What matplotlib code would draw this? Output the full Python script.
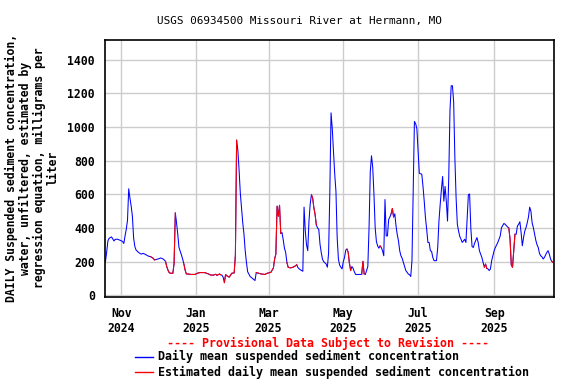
import matplotlib
matplotlib.use("Agg")
import matplotlib.pyplot as plt
import matplotlib.dates as mdates
from matplotlib.lines import Line2D
import pandas as pd
import numpy as np

# daily mean suspended sediment concentration (mg/L)
dates = [
    "2024-10-19", "2024-10-20", "2024-10-21", "2024-10-22", "2024-10-24", "2024-10-25",
    "2024-10-26", "2024-10-27", "2024-10-29", "2024-10-31",
    "2024-11-02", "2024-11-03", "2024-11-04", "2024-11-05", "2024-11-06", "2024-11-07",
    "2024-11-08", "2024-11-09", "2024-11-10", "2024-11-11", "2024-11-12", "2024-11-13",
    "2024-11-15", "2024-11-17", "2024-11-19", "2024-11-21", "2024-11-23", "2024-11-25",
    "2024-11-27", "2024-11-28", "2024-11-30",
    "2024-12-01", "2024-12-03", "2024-12-05", "2024-12-06", "2024-12-07", "2024-12-08",
    "2024-12-09", "2024-12-10", "2024-12-11", "2024-12-13", "2024-12-14", "2024-12-15",
    "2024-12-16", "2024-12-17", "2024-12-18", "2024-12-19", "2024-12-20", "2024-12-21",
    "2024-12-22", "2024-12-23", "2024-12-24", "2024-12-25", "2024-12-28", "2024-12-31",
    "2025-01-02", "2025-01-04", "2025-01-08", "2025-01-11", "2025-01-13", "2025-01-15",
    "2025-01-17", "2025-01-18", "2025-01-20", "2025-01-21", "2025-01-22", "2025-01-23",
    "2025-01-24", "2025-01-25", "2025-01-26", "2025-01-28", "2025-01-30",
    "2025-02-01", "2025-02-02", "2025-02-03", "2025-02-04", "2025-02-05", "2025-02-06",
    "2025-02-07", "2025-02-08", "2025-02-09", "2025-02-10", "2025-02-11", "2025-02-12",
    "2025-02-14", "2025-02-16", "2025-02-18", "2025-02-19", "2025-02-21", "2025-02-23",
    "2025-02-26", "2025-02-28",
    "2025-03-03", "2025-03-04", "2025-03-05", "2025-03-06", "2025-03-07", "2025-03-08",
    "2025-03-09", "2025-03-10", "2025-03-11", "2025-03-12", "2025-03-13", "2025-03-14",
    "2025-03-15", "2025-03-16", "2025-03-17", "2025-03-19", "2025-03-21", "2025-03-23",
    "2025-03-24", "2025-03-25", "2025-03-26", "2025-03-28", "2025-03-29", "2025-03-30",
    "2025-03-31",
    "2025-04-01", "2025-04-02", "2025-04-03", "2025-04-04", "2025-04-05", "2025-04-06",
    "2025-04-07", "2025-04-08", "2025-04-09", "2025-04-10", "2025-04-11", "2025-04-12",
    "2025-04-13", "2025-04-14", "2025-04-15", "2025-04-17", "2025-04-18", "2025-04-19",
    "2025-04-20", "2025-04-21", "2025-04-22", "2025-04-23", "2025-04-24", "2025-04-25",
    "2025-04-26", "2025-04-27", "2025-04-28", "2025-04-29", "2025-04-30",
    "2025-05-01", "2025-05-02", "2025-05-03", "2025-05-04", "2025-05-05", "2025-05-06",
    "2025-05-07", "2025-05-08", "2025-05-09", "2025-05-10", "2025-05-11", "2025-05-16",
    "2025-05-17", "2025-05-18", "2025-05-19", "2025-05-20", "2025-05-21", "2025-05-22",
    "2025-05-23", "2025-05-24", "2025-05-25", "2025-05-26", "2025-05-27", "2025-05-28",
    "2025-05-29", "2025-05-30", "2025-05-31",
    "2025-06-01", "2025-06-02", "2025-06-03", "2025-06-04", "2025-06-05", "2025-06-06",
    "2025-06-07", "2025-06-08", "2025-06-09", "2025-06-10", "2025-06-11", "2025-06-12",
    "2025-06-13", "2025-06-14", "2025-06-15", "2025-06-16", "2025-06-17", "2025-06-18",
    "2025-06-19", "2025-06-21", "2025-06-23", "2025-06-24", "2025-06-25", "2025-06-26",
    "2025-06-27", "2025-06-28", "2025-06-29", "2025-06-30",
    "2025-07-01", "2025-07-02", "2025-07-03", "2025-07-04", "2025-07-05", "2025-07-06",
    "2025-07-07", "2025-07-08", "2025-07-09", "2025-07-10", "2025-07-11", "2025-07-12",
    "2025-07-13", "2025-07-14", "2025-07-16", "2025-07-17", "2025-07-18", "2025-07-19",
    "2025-07-20", "2025-07-21", "2025-07-22", "2025-07-23", "2025-07-24", "2025-07-25",
    "2025-07-26", "2025-07-27", "2025-07-28", "2025-07-29", "2025-07-30", "2025-07-31",
    "2025-08-01", "2025-08-02", "2025-08-03", "2025-08-04", "2025-08-05", "2025-08-06",
    "2025-08-07", "2025-08-08", "2025-08-09", "2025-08-10", "2025-08-11", "2025-08-12",
    "2025-08-13", "2025-08-14", "2025-08-15", "2025-08-16", "2025-08-18", "2025-08-19",
    "2025-08-20", "2025-08-22", "2025-08-23", "2025-08-24", "2025-08-25", "2025-08-26",
    "2025-08-27", "2025-08-28", "2025-08-29", "2025-08-30",
    "2025-09-01", "2025-09-02", "2025-09-04", "2025-09-06", "2025-09-07", "2025-09-09",
    "2025-09-10", "2025-09-12", "2025-09-13", "2025-09-14", "2025-09-15", "2025-09-16",
    "2025-09-17", "2025-09-18", "2025-09-19", "2025-09-20", "2025-09-21", "2025-09-22",
    "2025-09-23", "2025-09-24", "2025-09-25", "2025-09-26", "2025-09-27", "2025-09-28",
    "2025-09-29", "2025-09-30",
    "2025-10-01", "2025-10-02", "2025-10-03", "2025-10-04", "2025-10-05", "2025-10-06",
    "2025-10-07", "2025-10-08", "2025-10-09", "2025-10-10", "2025-10-11", "2025-10-12",
    "2025-10-13", "2025-10-14", "2025-10-15", "2025-10-16", "2025-10-17", "2025-10-18",
    "2025-10-19",
]
ssc = [
    200, 255, 323, 339, 347, 335,
    323, 333, 333, 327,
    320, 308, 353, 392, 445, 633,
    578, 530, 470, 340, 290, 269,
    255, 245, 249, 241, 233, 229,
    220, 210, 214,
    216, 222, 216, 210, 202, 171,
    150, 135, 131, 131, 190, 490,
    431, 363, 284, 262, 240, 215,
    186, 150, 127, 127, 124, 124,
    131, 135, 135, 127, 120, 120,
    125, 118, 127, 122, 120, 108,
    75, 124, 116, 108, 131,
    133, 240, 922, 863, 745, 608,
    520, 431, 363, 265, 196, 140,
    112, 100, 88, 135, 131, 127,
    124, 131,
    137, 150, 163, 216, 245, 530,
    470, 535, 367, 373, 330, 280,
    255, 196, 167, 163, 167, 175,
    182, 165, 157, 147, 143, 524,
    382,
    300, 265, 441, 543, 598, 578,
    520, 480, 418, 400, 392, 304,
    255, 215, 200, 186, 167, 250,
    608, 1084, 990, 850, 720, 618,
    343, 216, 180, 167, 157,
    200, 225, 269, 275, 255, 190,
    147, 171, 160, 140, 124, 124,
    202, 127, 124, 147, 171, 402,
    735, 829, 760, 600, 400, 320,
    294, 280, 294,
    284, 265, 235, 569, 353, 353,
    451, 465, 484, 516, 465, 484,
    412, 360, 324, 265, 235, 220,
    196, 147, 127, 122, 112, 206,
    618, 1033, 1020, 990,
    853, 725, 722, 720, 647, 559,
    461, 392, 314, 314, 265, 261,
    225, 206, 206, 284, 441, 539,
    627, 706, 559, 647, 560, 441,
    700, 1098, 1245, 1245, 1150, 814,
    578, 422, 382, 350, 333, 314,
    324, 333, 314, 461, 598, 602,
    400, 290, 284, 308, 343, 314,
    265, 225, 196, 167, 186, 160,
    157, 147, 157, 206,
    265, 284, 314, 353, 402, 427,
    422, 406, 400, 333, 180, 167,
    265, 363, 363, 412, 422, 437,
    373, 294, 343, 382, 402, 431,
    465, 524,
    500, 431, 402, 363, 327, 300,
    284, 249, 235, 229, 216, 225,
    240, 255, 265, 245, 216, 202,
    196,
]

# periods where the daily value is estimated (drawn red)
est_start = ["2024-11-25", "2024-12-07", "2024-12-22", "2025-01-24", "2025-02-19",
             "2025-03-16", "2025-04-05", "2025-05-04", "2025-05-16", "2025-05-31",
             "2025-06-09", "2025-08-24", "2025-09-13", "2025-10-18"]
est_end = ["2024-11-28", "2024-12-15", "2025-01-21", "2025-02-03", "2025-03-11",
           "2025-03-24", "2025-04-09", "2025-05-07", "2025-05-18", "2025-06-01",
           "2025-06-11", "2025-08-26", "2025-09-18", "2025-10-19"]

yticks = [0, 200, 400, 600, 800, 1000, 1200, 1400]
xticks = ["2024-11-01", "2025-01-01", "2025-03-01", "2025-05-01", "2025-07-01", "2025-09-01"]

t = pd.to_datetime(dates)
v = np.array(ssc, dtype=float)

mono = "DejaVu Sans Mono"
fig = plt.figure(figsize=(5.76, 3.84), dpi=100)
ax = fig.add_axes([104.5/576, 1-297/384, (554-104.5)/576, (297-40)/384])

ax.plot(t, v, color="#0000ff", lw=0.75)
for s, e in zip(est_start, est_end):
    m = (t >= pd.Timestamp(s)) & (t <= pd.Timestamp(e))
    ax.plot(t[m], v[m], color="#ff0000", lw=0.75)

ax.set_xlim(pd.Timestamp("2024-10-18 06:00"), pd.Timestamp("2025-10-19 20:00"))
ax.set_ylim(-10, 1517)
ax.set_yticks(yticks)
ax.set_xticks(pd.to_datetime(xticks))
ax.xaxis.set_major_formatter(mdates.DateFormatter("%b\n%Y"))
ax.grid(True, color="#cccccc", lw=1.0)
ax.set_axisbelow(True)
ax.tick_params(length=0, pad=7)
for lab in ax.get_xticklabels() + ax.get_yticklabels():
    lab.set_fontfamily(mono)
    lab.set_fontweight("bold")
    lab.set_fontsize(8.3)
for sp in ax.spines.values():
    sp.set_linewidth(1.2)

fig.text(299/576, 1-20.7/384, "USGS 06934500 Missouri River at Hermann, MO",
         family=mono, fontsize=7.9, ha="center", va="center")

fig.text(32/576, 1-168/384,
         "DAILY Suspended sediment concentration,\nwater, unfiltered, estimated by\n"
         "regression equation, milligrams per\nliter",
         family=mono, fontweight="bold", fontsize=8.3, rotation=90,
         ha="center", va="center", multialignment="center", linespacing=1.08)

fig.text(328/576, 1-343.3/384, "---- Provisional Data Subject to Revision ----",
         family=mono, fontweight="bold", fontsize=8.4, color="#ff0000",
         ha="center", va="center")
fig.add_artist(Line2D([135/576, 153/576], [1-356.7/384]*2, color="#0000ff", lw=1))
fig.add_artist(Line2D([135/576, 153/576], [1-372.3/384]*2, color="#ff0000", lw=1))
fig.text(158/576, 1-356.7/384, "Daily mean suspended sediment concentration",
         family=mono, fontweight="bold", fontsize=8.4, ha="left", va="center")
fig.text(158/576, 1-372.3/384, "Estimated daily mean suspended sediment concentration",
         family=mono, fontweight="bold", fontsize=8.4, ha="left", va="center")

fig.savefig("out.png", dpi=100)
